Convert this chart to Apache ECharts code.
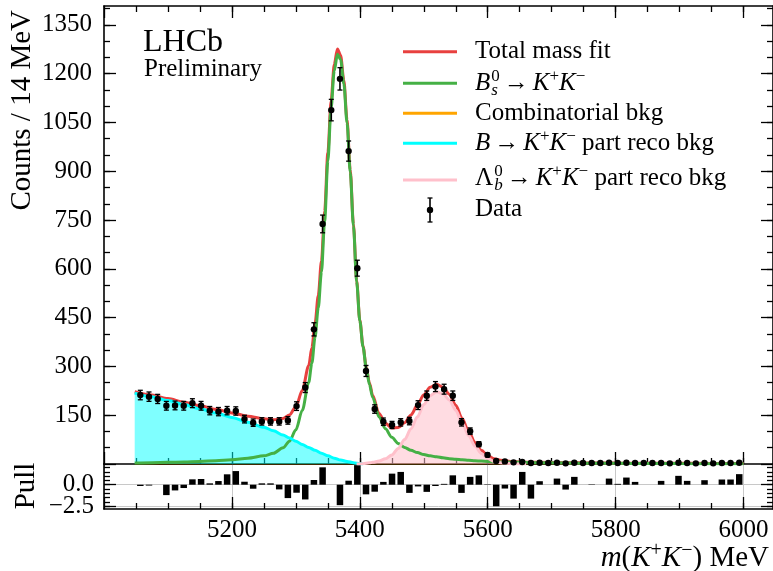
<!DOCTYPE html>
<html>
<head>
<meta charset="utf-8">
<script src="https://cdn.jsdelivr.net/npm/echarts@6/dist/echarts.min.js"></script>
<style>
  html, body { margin: 0; padding: 0; background: #fff; }
  #chart { width: 773px; height: 571px; }
</style>
</head>
<body>
<div id="chart"></div>
<script>
// ---- Histogram of m(K+K-) : 70 bins between 5050 and 6000 MeV ----
const BIN_LO = 5050, BIN_HI = 6000, N_BINS = 70;

const counts = [
  212, 207, 200, 179, 180, 179, 187, 179, 164, 161,
  164, 163, 138, 127, 131, 131, 131, 134, 178, 235,
  414, 738, 1088, 1184, 962, 602, 286, 169, 130, 120,
  128, 132, 181, 210, 238, 230, 210, 128, 101, 61,
  28, 9, 8, 5, 6, 3, 4, 3, 4, 2,
  4, 3, 3, 3, 4, 3, 4, 3, 3, 3,
  3, 2, 4, 3, 2, 3, 2, 3, 3, 4
];
const countErr = [
  14.6, 14.4, 14.1, 13.4, 13.4, 13.4, 13.7, 13.4, 12.8, 12.7,
  12.8, 12.8, 11.7, 11.3, 11.4, 11.4, 11.4, 11.6, 13.3, 15.3,
  20.3, 27.2, 33.0, 34.4, 31.0, 24.5, 16.9, 13.0, 11.4, 11.0,
  11.3, 11.5, 13.5, 14.5, 15.4, 15.2, 14.5, 11.3, 10.0, 7.8,
  5.3, 3.0, 2.8, 2.2, 2.4, 1.7, 2.0, 1.7, 2.0, 1.4,
  2.0, 1.7, 1.7, 1.7, 2.0, 1.7, 2.0, 1.7, 1.7, 1.7,
  1.7, 1.4, 2.0, 1.7, 1.4, 1.7, 1.4, 1.7, 1.7, 2.0
];
const pulls = [
  -0.15, -0.1, 0, -1.22, -0.67, -0.39, 0.63, 0.67, 0.16, 0.43,
  1.22, 1.6, 0.35, -0.47, 0.16, 0.16, -0.55, -1.57, -0.94, -1.73,
  0.55, 2.04, 0, -2.4, 0.47, 2.3, -1.13, -0.82, 0.33, 1.3,
  1.5, -0.96, -0.2, -0.84, -0.15, 0.1, 1.1, -0.96, 0.92, 1.1,
  0.05, -2.53, -0.45, -1.63, 1.5, -1.63, 0.41, 0, 0.72, -0.57,
  0.92, 0, 0.05, 0, 0.72, 0.1, 0.84, 0.33, 0, 0,
  0.45, 0, 1.04, 0.45, 0, 0.53, 0, 0.61, 0.61, 1.24
];

// ---- Fit model curves ----
const fitX = [
  5048, 5075, 5100, 5125, 5150, 5175, 5200, 5225, 5250, 5265,
  5280, 5290, 5300, 5310, 5320, 5325, 5330, 5335, 5340, 5345,
  5350, 5355, 5360, 5365, 5370, 5375, 5380, 5385, 5390, 5395,
  5400, 5405, 5410, 5415, 5420, 5430, 5440, 5450, 5460, 5470,
  5480, 5490, 5500, 5510, 5520, 5530, 5540, 5550, 5560, 5570,
  5580, 5590, 5600, 5610, 5620, 5640, 5660, 5700, 5750, 5800,
  5850, 5900, 5950, 6000
];
const totalFit = [
  222, 212, 201, 190, 179, 168, 157, 147, 139, 136,
  140, 151, 176, 226, 302, 357, 433, 518, 624, 777,
  957, 1115, 1228, 1276, 1256, 1180, 1058, 904, 737, 564,
  442, 362, 298, 250, 211, 155, 125, 111, 112, 127,
  151, 181, 213, 236, 245, 236, 214.5, 180.5, 140, 100.5,
  66, 42, 26, 16, 11.5, 7.5, 5.5, 4.5, 3.5, 2.9,
  2.4, 2.05, 1.8, 1.7
];
const bsFit = [
  3, 4, 5, 6, 8, 10, 13, 18, 25, 33,
  50, 70, 105, 165, 250, 310, 390, 480, 590, 747,
  931, 1093, 1209, 1260, 1243, 1169, 1049, 897, 732, 560,
  440, 360, 295, 245, 205, 145, 108, 82, 63, 51,
  42, 35, 29, 25, 22, 19, 16.5, 14.5, 13, 11.5,
  10, 9, 8, 7, 6.5, 5.5, 4.5, 3.5, 2.5, 2,
  1.5, 1.2, 1, 0.9
];
const combX = [5048, 5300, 5550, 5800, 6000];
const combY = [0.2, 0.18, 0.16, 0.14, 0.12];
const partRecoX = [5048, 5075, 5100, 5125, 5150, 5175, 5200, 5225, 5250, 5265,
  5280, 5290, 5300, 5310, 5320, 5330, 5340, 5350, 5360, 5370, 5380, 5390, 5400, 5405];
const partRecoY = [218, 207, 195, 183, 170, 157, 143, 128, 113, 102,
  89, 80, 70, 60, 51, 42, 33, 25, 18, 12, 8, 4, 1, 0];
const lambdaX = [5395, 5405, 5415, 5420, 5430, 5440, 5450, 5460, 5470, 5480,
  5490, 5500, 5510, 5520, 5530, 5540, 5550, 5560, 5570, 5580,
  5590, 5600, 5610, 5620, 5640, 5660];
const lambdaY = [0, 1, 3.5, 5, 9, 16, 28, 48, 75, 108,
  145, 183, 210, 222, 216, 197, 165, 126, 88, 55,
  32, 17, 8, 4, 1, 0];

// ---- Axis ticks and labels ----
const xMajorTicks = [5000, 5200, 5400, 5600, 5800, 6000];
const xMinorTicks = [];
for (let v = 5050; v <= 6000; v += 50) xMinorTicks.push(v);
const xTickLabels = [5200, 5400, 5600, 5800, 6000];
const yMajorTicks = [0, 150, 300, 450, 600, 750, 900, 1050, 1200, 1350];
const yMinorTicks = [];
for (let v = 50; v <= 1400; v += 50) yMinorTicks.push(v);
const yTickLabels = [150, 300, 450, 600, 750, 900, 1050, 1200, 1350];
const pullMajorTicks = [-2.5, 0];
const pullMinorTicks = [-2.5, -2, -1.5, -1, -0.5, 0, 0.5, 1, 1.5, 2];
const pullTickLabels = [-2.5, 0];

const X_MIN = 5000, X_MAX = 6046, Y_MAX = 1408;
const PULL_MIN = -2.85, PULL_MAX = 2.43;

const SERIF = '"Liberation Serif", "Times New Roman", serif';
const RED = '#e8403f', GREEN = '#45b045', ORANGE = '#ffa500', CYAN = '#00ffff', PINK = '#ffc0cb';

const binWidth = (BIN_HI - BIN_LO) / N_BINS;
const binCenters = counts.map((_, i) => BIN_LO + binWidth * (i + 0.5));

const zip = (xs, ys) => xs.map((x, i) => [x, ys[i]]);

// ---- Axis helpers (ticks point inwards on every side) ----
const tickLine = { color: '#000', width: 1.3 };
const spine = { show: true, onZero: false, lineStyle: { color: '#000', width: 1.6 } };

function axis(grid, pos, lo, hi, ticks, len, more) {
  const a = {
    type: 'value', gridIndex: grid, position: pos, min: lo, max: hi,
    axisLine: { show: false, onZero: false },
    axisTick: { show: true, inside: true, length: len, customValues: ticks, lineStyle: tickLine },
    axisLabel: { show: false },
    splitLine: { show: false },
    splitArea: { show: false }
  };
  if (more) for (const k in more) a[k] = Object.assign({}, a[k], more[k]);
  return a;
}
const grey = { show: true, lineStyle: { color: '#c8c8c8', width: 1 } };

const xAxes = [
  axis(0, 'bottom', X_MIN, X_MAX, xMajorTicks, 12, { axisLine: spine }),
  axis(0, 'bottom', X_MIN, X_MAX, xMinorTicks, 6),
  axis(0, 'top', X_MIN, X_MAX, xMajorTicks, 12, { axisLine: spine }),
  axis(0, 'top', X_MIN, X_MAX, xMinorTicks, 6),
  axis(1, 'bottom', X_MIN, X_MAX, xMajorTicks, 12, { axisLine: spine, splitLine: grey }),
  axis(1, 'bottom', X_MIN, X_MAX, xMinorTicks, 6)
];

const yAxes = [
  axis(0, 'left', 0, Y_MAX, yMajorTicks, 12, { axisLine: spine }),
  axis(0, 'left', 0, Y_MAX, yMinorTicks, 6),
  axis(0, 'right', 0, Y_MAX, yMajorTicks, 12, { axisLine: spine }),
  axis(0, 'right', 0, Y_MAX, yMinorTicks, 6),
  axis(1, 'left', PULL_MIN, PULL_MAX, pullMajorTicks, 12, { axisLine: spine, splitLine: grey }),
  axis(1, 'left', PULL_MIN, PULL_MAX, pullMinorTicks, 6),
  axis(1, 'right', PULL_MIN, PULL_MAX, pullMajorTicks, 12, { axisLine: spine }),
  axis(1, 'right', PULL_MIN, PULL_MAX, pullMinorTicks, 6)
];

// ---- Text with sub/superscripts, laid out glyph run by glyph run ----
const mctx = document.createElement('canvas').getContext('2d');
const fontStr = (sz, it) => (it ? 'italic ' : '') + sz + 'px ' + SERIF;
function textWidth(t, sz, it) { mctx.font = fontStr(sz, it); return mctx.measureText(t).width; }

function mathText(x0, baseline, segs, align) {
  let x = 0, lastStart = 0, lastW = 0;
  const placed = [];
  segs.forEach(s => {
    if (s.gap) x += s.gap;
    const w = textWidth(s.t, s.sz, s.it);
    if (s.stack) {
      placed.push({ s, x: lastStart });
      lastW = Math.max(lastW, w);
      x = lastStart + lastW;
    } else {
      placed.push({ s, x });
      lastStart = x; lastW = w; x += w;
    }
  });
  const off = align === 'right' ? x0 - x : x0;
  return placed.map(p => ({
    type: 'text', z: 100, silent: true,
    x: off + p.x, y: baseline - (p.s.rise || 0) - 0.3375 * p.s.sz,
    style: {
      text: p.s.t, font: fontStr(p.s.sz, p.s.it), fill: '#000',
      align: 'left', verticalAlign: 'middle', textAlign: 'left', textVerticalAlign: 'middle'
    }
  }));
}

function plainText(x, y, text, sz, align, rotation) {
  return {
    type: 'text', z: 100, silent: true, x, y, rotation: rotation || 0,
    style: {
      text, font: fontStr(sz, false), fill: '#000',
      align, verticalAlign: 'middle', textAlign: align, textVerticalAlign: 'middle'
    }
  };
}

// ---- Legend and annotations ----
const LEG_SZ = 25, SUP_SZ = 17, TICK_SZ = 25;
const LX1 = 403, LX2 = 457, TX = 475;
const legendLines = [
  { y: 51.7, color: RED },
  { y: 83.3, color: GREEN },
  { y: 113.3, color: ORANGE },
  { y: 143.3, color: CYAN },
  { y: 180, color: PINK }
];
const kk = [
  { t: 'K', it: 1, sz: LEG_SZ, gap: 4 },
  { t: '+', sz: SUP_SZ, rise: 9 },
  { t: 'K', it: 1, sz: LEG_SZ },
  { t: '\u2212', sz: SUP_SZ, rise: 9 }
];
const arrow = { t: '\u2192', sz: LEG_SZ, gap: 4 };
const legendText = [
  mathText(TX, 60, [{ t: 'Total mass fit', sz: LEG_SZ }]),
  mathText(TX, 91.7, [
    { t: 'B', it: 1, sz: LEG_SZ },
    { t: '0', sz: SUP_SZ, rise: 9, gap: 1 },
    { t: 's', it: 1, sz: SUP_SZ, rise: -5, stack: 1 },
    arrow, ...kk
  ]),
  mathText(TX, 121.7, [{ t: 'Combinatorial bkg', sz: LEG_SZ }]),
  mathText(TX, 151.7, [
    { t: 'B', it: 1, sz: LEG_SZ }, arrow, ...kk,
    { t: ' part reco bkg', sz: LEG_SZ }
  ]),
  mathText(TX, 186.7, [
    { t: '\u039B', sz: LEG_SZ },
    { t: '0', sz: SUP_SZ, rise: 9, gap: 1 },
    { t: 'b', it: 1, sz: SUP_SZ, rise: -5, stack: 1 },
    arrow, ...kk,
    { t: ' part reco bkg', sz: LEG_SZ }
  ]),
  mathText(TX, 218.3, [{ t: 'Data', sz: LEG_SZ }])
].flat();

const legendMarks = legendLines.map(l => ({
  type: 'line', z: 100, silent: true,
  shape: { x1: LX1, y1: l.y, x2: LX2, y2: l.y },
  style: { stroke: l.color, lineWidth: 3 }
}));
legendMarks.push(
  { type: 'line', z: 100, silent: true, shape: { x1: 430, y1: 198, x2: 430, y2: 222 }, style: { stroke: '#000', lineWidth: 1.6 } },
  { type: 'line', z: 100, silent: true, shape: { x1: 427.5, y1: 198, x2: 432.5, y2: 198 }, style: { stroke: '#000', lineWidth: 1.3 } },
  { type: 'line', z: 100, silent: true, shape: { x1: 427.5, y1: 222, x2: 432.5, y2: 222 }, style: { stroke: '#000', lineWidth: 1.3 } },
  { type: 'circle', z: 100, silent: true, shape: { cx: 430, cy: 210, r: 3.2 }, style: { fill: '#000' } }
);

const xTitle = mathText(769, 568, [
  { t: 'm', it: 1, sz: 29 },
  { t: '(', sz: 29 },
  { t: 'K', it: 1, sz: 29 },
  { t: '+', sz: 20, rise: 11 },
  { t: 'K', it: 1, sz: 29 },
  { t: '\u2212', sz: 20, rise: 11 },
  { t: ')', sz: 29 },
  { t: ' MeV', sz: 29 }
], 'right');

const graphics = [
  plainText(22.5, 10, 'Counts / 14 MeV', 29, 'right', Math.PI / 2),
  plainText(26, 486, 'Pull', 29, 'center', Math.PI / 2),
  plainText(143, 42.2, 'LHCb', 32, 'left'),
  plainText(144, 69.6, 'Preliminary', 25, 'left'),
  ...legendMarks, ...legendText, ...xTitle
];

// ---- Series: shaded components underneath, fit lines, then data ----
const curve = (name, data, color, width, z) => ({
  name, type: 'line', xAxisIndex: 0, yAxisIndex: 0, data, z,
  showSymbol: false, symbol: 'none', smooth: 0.3, smoothMonotone: 'x',
  lineStyle: { color, width }, silent: true
});
const fill = (name, data, color) => ({
  name, type: 'line', xAxisIndex: 0, yAxisIndex: 0, data, z: 1,
  showSymbol: false, symbol: 'none', smooth: 0.3, smoothMonotone: 'x',
  lineStyle: { width: 0, color }, areaStyle: { color, opacity: 1 }, silent: true
});

const series = [
  fill('B part reco fill', zip(partRecoX, partRecoY), 'rgba(0,255,255,0.5)'),
  fill('Lambda_b part reco fill', zip(lambdaX, lambdaY), 'rgba(255,192,203,0.55)'),
  curve('Combinatorial bkg', zip(combX, combY), ORANGE, 2, -1),
  curve('Total mass fit', zip(fitX, totalFit), RED, 3, 2),
  curve('Bs0 -> K+K-', zip(fitX, bsFit), GREEN, 3, 3),
  curve('B -> K+K- part reco bkg', zip(partRecoX, partRecoY), CYAN, 3, 3),
  curve('Lambda_b0 -> K+K- part reco bkg', zip(lambdaX, lambdaY), PINK, 3, 3),
  {
    name: 'Data', type: 'custom', xAxisIndex: 0, yAxisIndex: 0, z: 5,
    data: binCenters.map((x, i) => [x, counts[i], countErr[i]]),
    encode: { x: 0, y: 1 },
    renderItem: (params, api) => {
      const x = api.value(0), y = api.value(1), e = api.value(2);
      const c = api.coord([x, y]);
      const lo = api.coord([x, y - e]);
      const hi = api.coord([x, y + e]);
      const cap = 2.5;
      return {
        type: 'group', children: [
          { type: 'line', shape: { x1: c[0], y1: lo[1], x2: c[0], y2: hi[1] }, style: { stroke: '#000', lineWidth: 1.6 } },
          { type: 'line', shape: { x1: c[0] - cap, y1: lo[1], x2: c[0] + cap, y2: lo[1] }, style: { stroke: '#000', lineWidth: 1.3 } },
          { type: 'line', shape: { x1: c[0] - cap, y1: hi[1], x2: c[0] + cap, y2: hi[1] }, style: { stroke: '#000', lineWidth: 1.3 } },
          { type: 'circle', shape: { cx: c[0], cy: c[1], r: 3.2 }, style: { fill: '#000' } }
        ]
      };
    }
  },
  {
    name: 'Pull', type: 'bar', xAxisIndex: 4, yAxisIndex: 4,
    data: binCenters.map((x, i) => [x, pulls[i]]),
    barWidth: 6.5, itemStyle: { color: '#000' }, silent: true
  }
];

const chart = echarts.init(document.getElementById('chart'), null, { renderer: 'canvas' });
chart.setOption({
  animation: false,
  backgroundColor: '#fff',
  grid: [
    { left: 104, right: -1, top: 6, height: 458 },
    { left: 104, right: -1, top: 464, height: 45 }
  ],
  xAxis: xAxes,
  yAxis: yAxes,
  series
});

// Tick labels in the serif face, placed through the axes' own scales.
const leftEdge = chart.convertToPixel({ xAxisIndex: 0 }, X_MIN);
const pullBottom = chart.convertToPixel({ yAxisIndex: 4 }, PULL_MIN);
const tickText = [];
yTickLabels.forEach(v => {
  tickText.push(plainText(leftEdge - 12, chart.convertToPixel({ yAxisIndex: 0 }, v), String(v), TICK_SZ, 'right'));
});
pullTickLabels.forEach(v => {
  const txt = (v < 0 ? '\u2212' : '') + Math.abs(v).toFixed(1);
  tickText.push(plainText(leftEdge - 10, chart.convertToPixel({ yAxisIndex: 4 }, v), txt, TICK_SZ, 'right'));
});
xTickLabels.forEach(v => {
  tickText.push(plainText(chart.convertToPixel({ xAxisIndex: 4 }, v), pullBottom + 21, String(v), TICK_SZ, 'center'));
});

chart.setOption({ graphic: { elements: graphics.concat(tickText) } });
</script>
</body>
</html>
